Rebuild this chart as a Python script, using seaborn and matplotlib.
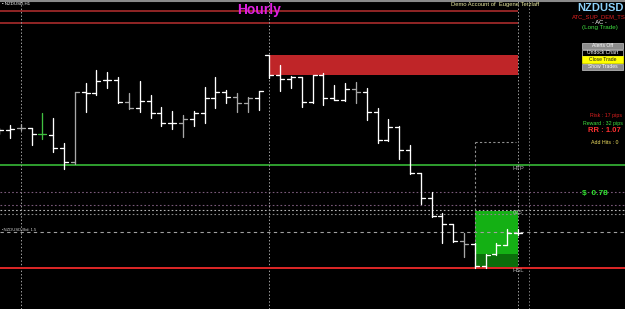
import numpy as np
import pandas as pd
import matplotlib
matplotlib.use("Agg")
import matplotlib.pyplot as plt
from matplotlib.patches import Rectangle
from matplotlib.lines import Line2D
import seaborn as sns

# ---------------- data (NZDUSD hourly OHLC) ----------------
bar_open = [0.60185, 0.60190, 0.60200, 0.60200, 0.60170, 0.60165, 0.60100, 0.60030, 0.60380, 0.60375,
            0.60440, 0.60440, 0.60330, 0.60300, 0.60335, 0.60275, 0.60225, 0.60225, 0.60245, 0.60275,
            0.60350, 0.60380, 0.60355, 0.60325, 0.60350, 0.60565, 0.60465, 0.60445, 0.60455, 0.60330,
            0.60465, 0.60350, 0.60340, 0.60395, 0.60380, 0.60280, 0.60140, 0.60205, 0.60090, 0.59975,
            0.59850, 0.59760, 0.59720, 0.59635, 0.59620, 0.59510, 0.59570, 0.59615, 0.59675]
bar_high = [0.60200, 0.60215, 0.60220, 0.60200, 0.60275, 0.60250, 0.60125, 0.60380, 0.60425, 0.60490,
            0.60480, 0.60455, 0.60375, 0.60435, 0.60365, 0.60305, 0.60285, 0.60265, 0.60285, 0.60405,
            0.60455, 0.60390, 0.60375, 0.60355, 0.60385, 0.60565, 0.60515, 0.60460, 0.60455, 0.60465,
            0.60475, 0.60415, 0.60425, 0.60430, 0.60400, 0.60300, 0.60245, 0.60210, 0.60115, 0.59975,
            0.59880, 0.59775, 0.59720, 0.59675, 0.59625, 0.59570, 0.59625, 0.59695, 0.59695]
bar_low = [0.60170, 0.60150, 0.60190, 0.60115, 0.60145, 0.60080, 0.59995, 0.60020, 0.60280, 0.60365,
           0.60400, 0.60325, 0.60295, 0.60280, 0.60250, 0.60210, 0.60195, 0.60155, 0.60210, 0.60225,
           0.60300, 0.60325, 0.60280, 0.60280, 0.60290, 0.60450, 0.60385, 0.60400, 0.60305, 0.60325,
           0.60315, 0.60340, 0.60335, 0.60325, 0.60240, 0.60125, 0.60135, 0.60045, 0.59970, 0.59820,
           0.59755, 0.59625, 0.59630, 0.59555, 0.59500, 0.59500, 0.59565, 0.59615, 0.59665]
bar_close = [0.60190, 0.60195, 0.60200, 0.60170, 0.60170, 0.60100, 0.60030, 0.60380, 0.60375, 0.60435,
             0.60440, 0.60330, 0.60300, 0.60335, 0.60275, 0.60225, 0.60225, 0.60245, 0.60275, 0.60350,
             0.60380, 0.60355, 0.60325, 0.60350, 0.60385, 0.60465, 0.60445, 0.60455, 0.60330, 0.60465,
             0.60350, 0.60340, 0.60395, 0.60380, 0.60280, 0.60140, 0.60205, 0.60090, 0.59975, 0.59850,
             0.59760, 0.59720, 0.59635, 0.59620, 0.59510, 0.59565, 0.59615, 0.59675, 0.59675]

tp_level = 0.60015
sl_level = 0.59500
entry_level = 0.59680
supply_top = 0.60565
supply_bottom = 0.60465
upper_lines = [0.60785, 0.60725]
purple_dotted = [0.59880, 0.59815]
gray_dotted = [0.59790, 0.59770]
trade_box_top = 0.59785
trade_box_mid = 0.59570
dashed_box_top = 0.60130

# ---------------- style ----------------
gray_bars = {2, 7, 12, 17, 22, 23, 33, 43}
green_bars = {4}
W, H = 625, 309
PX = 10.81          # pixels per bar
X0 = 0.075          # left limit in bar units
Y_TOP = 0.6084
Y_BOT = Y_TOP - H * 0.00005

sns.set_theme(style="dark", rc={"axes.facecolor": "black", "figure.facecolor": "black"})
plt.rcParams["font.family"] = ["Liberation Sans", "DejaVu Sans"]

fig = plt.figure(figsize=(W / 100, H / 100), dpi=100)
ax = fig.add_axes([0, 0, 1, 1])
ax.set_facecolor("black")

def fx(px):
    return px / W

def fy(py):
    return 1 - py / H

# supply zone and trade boxes
ax.add_patch(Rectangle((25, supply_bottom), 23, supply_top - supply_bottom,
                       facecolor="#bf2528", edgecolor="none", zorder=1))
ax.add_patch(Rectangle((44, trade_box_mid), 4, trade_box_top - trade_box_mid,
                       facecolor="#14b014", edgecolor="none", zorder=1))
ax.add_patch(Rectangle((44, sl_level), 4, trade_box_mid - sl_level,
                       facecolor="#0b6e0b", edgecolor="none", zorder=1))

# horizontal lines
ax.hlines(upper_lines, 0, 48, colors="#b83030", lw=1.1, zorder=2)
ax.axhline(tp_level, color="#3cc83c", lw=1.1, zorder=2)
ax.axhline(sl_level, color="#e02828", lw=1.4, zorder=4)
for lv in purple_dotted:
    ax.axhline(lv, color="#7a5a7a", lw=0.8, ls=(0, (1.5, 2)), zorder=2)
ax.axhline(gray_dotted[0], color="#b8b8b8", lw=0.8, ls=(0, (1.5, 2)), zorder=2)
ax.axhline(gray_dotted[1], color="#8a8a8a", lw=0.8, ls=(0, (1.5, 2)), zorder=2)
ax.axhline(entry_level, color="#a0a0a0", lw=0.8, ls=(0, (3, 3)), zorder=2)

# vertical separators
for xv in [2, 25, 48]:
    ax.axvline(xv, color="#a0a0a0", lw=0.7, ls=(0, (1.5, 2)), zorder=2)
ax.axvline(49, color="#808080", lw=0.7, ls=(0, (1.5, 2)), zorder=2)
ax.plot([44, 44], [sl_level, dashed_box_top], color="#909090", lw=0.8, ls=(0, (2, 2)), zorder=2)
ax.plot([44, 47.8], [dashed_box_top, dashed_box_top], color="#909090", lw=0.8, ls=(0, (2, 2)), zorder=2)

# OHLC bars as seaborn line segments
tick = 4 / PX
rows = []
seg = 0
for i in range(len(bar_open)):
    kind = "gray" if i in gray_bars else ("green" if i in green_bars else "white")
    for (xa, ya), (xb, yb) in [((i, bar_high[i]), (i, bar_low[i])),
                               ((i - tick, bar_open[i]), (i, bar_open[i])),
                               ((i, bar_close[i]), (i + tick, bar_close[i]))]:
        rows.append({"x": xa, "y": ya, "seg": seg, "kind": kind})
        rows.append({"x": xb, "y": yb, "seg": seg, "kind": kind})
        seg += 1
df = pd.DataFrame(rows)
sns.lineplot(data=df, x="x", y="y", units="seg", estimator=None, hue="kind", sort=False,
             palette={"white": "#ffffff", "gray": "#a8a8a8", "green": "#40c040"},
             legend=False, lw=0.95, ax=ax, zorder=5)
ax.set_xlim(X0, X0 + W / PX)
ax.set_ylim(Y_BOT, Y_TOP)
ax.axis("off")

# top border
fig.add_artist(Line2D([0, 1], [fy(0.8), fy(0.8)], color="#8a8a8a", lw=1.5))

# texts
fig.text(fx(2), fy(4), "\u25aa NZDUSD,H1", color="white", fontsize=3.2, va="center", ha="left")
fig.text(fx(259), fy(10), "Hourly", color="#e020e0", fontsize=10, fontweight="bold",
         ha="center", va="center")
fig.text(fx(495), fy(4.5), "Demo Account of  Eugene Tetzlaff", color="#e8e8a0", fontsize=4.2,
         ha="center", va="center")
fig.text(fx(600), fy(8), "NZDUSD", color="#8cd0f8", fontsize=8, fontweight="bold",
         ha="center", va="center")
fig.text(fx(599), fy(16.5), "ATC_SUP_DEM_TS", color="#e02020", fontsize=4.2, ha="center", va="center")
fig.text(fx(599), fy(22), "- AC -", color="white", fontsize=4.2, ha="center", va="center")
fig.text(fx(600), fy(27.5), "(Long Trade)", color="#40e040", fontsize=4.5, ha="center", va="center")

buttons = [("Alerts Off", 42.5, 48.5, "#8c8c8c", "white", "#c8c8c8"),
           ("Undock Chart", 49.5, 56, "black", "white", "#d0d0d0"),
           ("Close Trade", 56.5, 63, "#ffff00", "#202020", "#ffff00"),
           ("Show Trades", 63.5, 69.5, "#8c8c8c", "white", "#c8c8c8")]
for label, y0, y1, bg, fg, ec in buttons:
    fig.add_artist(Rectangle((fx(582), fy(y1)), fx(623) - fx(582), fy(y0) - fy(y1),
                             facecolor=bg, edgecolor=ec, lw=0.5, transform=fig.transFigure))
    fig.text(fx(602.5), fy((y0 + y1) / 2), label, color=fg, fontsize=3.6, ha="center", va="center")

fig.text(fx(606), fy(116), "Risk : 17 pips", color="#e02020", fontsize=3.8, ha="center", va="center")
fig.text(fx(603), fy(123), "Reward : 32 pips", color="#40e040", fontsize=3.8, ha="center", va="center")
fig.text(fx(604), fy(130.5), "RR : 1.07", color="#ff3030", fontsize=5.5, fontweight="bold",
         ha="center", va="center")
fig.text(fx(605), fy(143), "Add Hits : 0", color="#f0e060", fontsize=3.8, ha="center", va="center")
fig.text(fx(595), fy(194), "$  0.78", color="#30e030", fontsize=6, fontweight="bold",
         ha="center", va="center")

fig.text(fx(518), fy(168), "HTP", color="#b0b0b0", fontsize=4.2, ha="center", va="center")
fig.text(fx(518), fy(213), "025", color="#b0b0b0", fontsize=4.2, ha="center", va="center")
fig.text(fx(518), fy(270.5), "HSL", color="#b0b0b0", fontsize=4.2, ha="center", va="center")
fig.text(fx(2), fy(230), "\u2022NZDUSD,Bid: 1.5", color="#d0d0d0", fontsize=3, ha="left", va="center")

fig.savefig("out.png", dpi=100, facecolor="black")
